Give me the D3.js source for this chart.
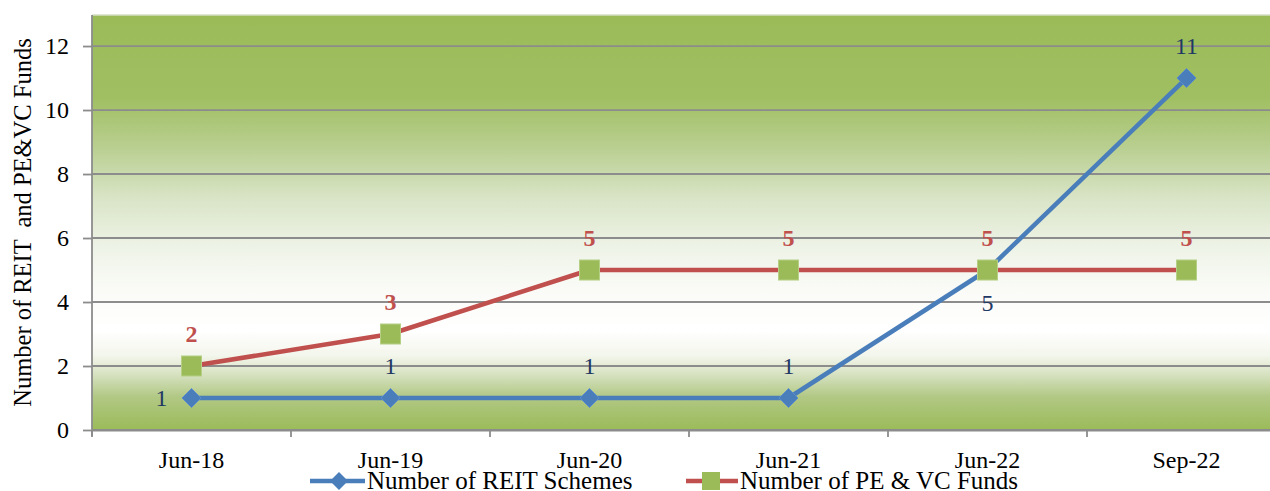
<!DOCTYPE html>
<html>
<head>
<meta charset="utf-8">
<script src="https://cdn.jsdelivr.net/npm/d3@7"></script>
</head>
<body style="margin:0;background:#fff">
<svg id="chart" width="1270" height="491" style="display:block"></svg>
<script>
// Fund counts by period
const categories = ["Jun-18", "Jun-19", "Jun-20", "Jun-21", "Jun-22", "Sep-22"];
const reitSchemes = [1, 1, 1, 1, 5, 11];
const peVcFunds = [2, 3, 5, 5, 5, 5];
const yTicks = [0, 2, 4, 6, 8, 10, 12];
// label placement for the REIT series: left / above / below
const reitLabelPos = ["left", "above", "above", "above", "below", "above"];

const SERIF = "'Liberation Serif', 'Times New Roman', serif";

const svg = d3.select("#chart");
const W = 1270, H = 491;
const m = { left: 92, top: 15, bottom: 61 };
const plotRight = 92 + 6 * 199;

const x = d3.scaleBand().domain(categories).range([m.left, plotRight]);
const y = d3.scaleLinear().domain([0, 12.97]).range([H - m.bottom, m.top]);

// gradient background of the plot area
const defs = svg.append("defs");
const grad = defs.append("linearGradient")
  .attr("id", "bg").attr("x1", 0).attr("y1", 0).attr("x2", 0).attr("y2", 1);
[[0, "#9bbb59"], [0.2, "#a0bf62"], [0.32, "#b9cf91"], [0.44, "#d9e4c6"],
 [0.56, "#eef3e7"], [0.66, "#fafbf7"], [0.76, "#ffffff"], [0.82, "#f3f6ec"],
 [0.87, "#d4e0bd"], [0.92, "#b1c884"], [1, "#9bbb59"]]
  .forEach(([o, c]) => grad.append("stop").attr("offset", o).attr("stop-color", c));

svg.append("rect")
  .attr("x", m.left).attr("y", m.top)
  .attr("width", plotRight - m.left).attr("height", y(0) - m.top)
  .attr("fill", "url(#bg)");
svg.append("line")
  .attr("x1", m.left).attr("x2", plotRight)
  .attr("y1", m.top).attr("y2", m.top)
  .attr("stroke", "#d6dfc6").attr("stroke-width", 1.5);

// horizontal gridlines
svg.append("g").selectAll("line").data(yTicks).join("line")
  .attr("x1", m.left).attr("x2", plotRight)
  .attr("y1", d => y(d)).attr("y2", d => y(d))
  .attr("stroke", "#8c8c8c").attr("stroke-width", 1.8);

// y axis
const yAxis = svg.append("g")
  .attr("transform", `translate(${m.left},0)`)
  .call(d3.axisLeft(y).tickValues(yTicks).tickSize(9).tickPadding(14).tickFormat(d3.format("d")));
yAxis.select(".domain").attr("stroke", "#8c8c8c").attr("stroke-width", 1.8)
  .attr("d", `M0,${m.top}V${y(0) + 6}`);
yAxis.selectAll(".tick line").attr("stroke", "#8c8c8c").attr("stroke-width", 1.8);
yAxis.selectAll(".tick text")
  .style("font-family", SERIF).style("font-size", "24px").attr("fill", "#000");

// x axis
const xAxis = svg.append("g")
  .attr("transform", `translate(0,${y(0)})`)
  .call(d3.axisBottom(x).tickSize(0));
xAxis.select(".domain").attr("stroke", "#8c8c8c").attr("stroke-width", 1.8);
xAxis.selectAll(".tick text")
  .attr("y", 38).attr("dy", 0)
  .style("font-family", SERIF).style("font-size", "24px").attr("fill", "#000");
// tick marks between categories
svg.append("g").selectAll("line").data(categories).join("line")
  .attr("x1", d => x(d)).attr("x2", d => x(d))
  .attr("y1", y(0)).attr("y2", y(0) + 7)
  .attr("stroke", "#8c8c8c").attr("stroke-width", 1.8);

// y axis title
svg.append("text")
  .attr("transform", `translate(31,${(m.top + y(0)) / 2}) rotate(-90)`)
  .attr("text-anchor", "middle")
  .style("font-family", SERIF).style("font-size", "24.5px")
  .style("white-space", "pre")
  .attr("fill", "#000")
  .text("Number of REIT  and PE&VC Funds");

const cx = d => x(d) + x.bandwidth() / 2;
const line = d3.line().x(d => cx(d[0])).y(d => y(d[1]));

const blue = "#4a7ebb", red = "#c0504d", green = "#9bbb59";

// PE & VC line
svg.append("path")
  .datum(categories.map((c, i) => [c, peVcFunds[i]]))
  .attr("d", line).attr("fill", "none")
  .attr("stroke", red).attr("stroke-width", 4.5).attr("stroke-linejoin", "round");

// REIT line
svg.append("path")
  .datum(categories.map((c, i) => [c, reitSchemes[i]]))
  .attr("d", line).attr("fill", "none")
  .attr("stroke", blue).attr("stroke-width", 4.5).attr("stroke-linejoin", "round");

// markers
const diamond = (cxp, cyp, r) => `M${cxp},${cyp - r}L${cxp + r},${cyp}L${cxp},${cyp + r}L${cxp - r},${cyp}Z`;
svg.append("g").selectAll("path").data(categories).join("path")
  .attr("d", (c, i) => diamond(cx(c), y(reitSchemes[i]), 9.5))
  .attr("fill", blue).attr("stroke", "#5b8ccc").attr("stroke-width", 1);

svg.append("g").selectAll("rect").data(categories).join("rect")
  .attr("x", c => cx(c) - 10).attr("y", (c, i) => y(peVcFunds[i]) - 10)
  .attr("width", 20).attr("height", 20)
  .attr("fill", green).attr("stroke", "#b5cf85").attr("stroke-width", 1);

// PE & VC value labels
svg.append("g").selectAll("text").data(categories).join("text")
  .attr("x", c => cx(c)).attr("y", (c, i) => y(peVcFunds[i]) - 24)
  .attr("text-anchor", "middle")
  .style("font-family", SERIF).style("font-size", "24px").style("font-weight", "bold")
  .attr("fill", red)
  .text((c, i) => peVcFunds[i]);

// REIT value labels
svg.append("g").selectAll("text").data(categories).join("text")
  .attr("x", (c, i) => reitLabelPos[i] === "left" ? cx(c) - 24 : cx(c))
  .attr("y", (c, i) => {
    const p = reitLabelPos[i], yy = y(reitSchemes[i]);
    return p === "left" ? yy + 8 : p === "below" ? yy + 41 : yy - 24;
  })
  .attr("text-anchor", (c, i) => reitLabelPos[i] === "left" ? "end" : "middle")
  .style("font-family", SERIF).style("font-size", "24px")
  .attr("fill", "#1f3864")
  .text((c, i) => reitSchemes[i]);

// legend
const legY = 481;
const leg = svg.append("g");
leg.append("line").attr("x1", 310).attr("x2", 365).attr("y1", legY).attr("y2", legY)
  .attr("stroke", blue).attr("stroke-width", 4.5);
leg.append("path").attr("d", diamond(339, legY, 9)).attr("fill", blue);
leg.append("text").attr("x", 367).attr("y", legY + 8)
  .style("font-family", SERIF).style("font-size", "25px").attr("fill", "#000")
  .text("Number of REIT Schemes");
leg.append("line").attr("x1", 686).attr("x2", 738).attr("y1", legY).attr("y2", legY)
  .attr("stroke", red).attr("stroke-width", 4.5);
leg.append("rect").attr("x", 702).attr("y", legY - 9).attr("width", 18).attr("height", 18)
  .attr("fill", green);
leg.append("text").attr("x", 740).attr("y", legY + 8)
  .style("font-family", SERIF).style("font-size", "25px").attr("fill", "#000")
  .text("Number of PE & VC Funds");
</script>
</body>
</html>
